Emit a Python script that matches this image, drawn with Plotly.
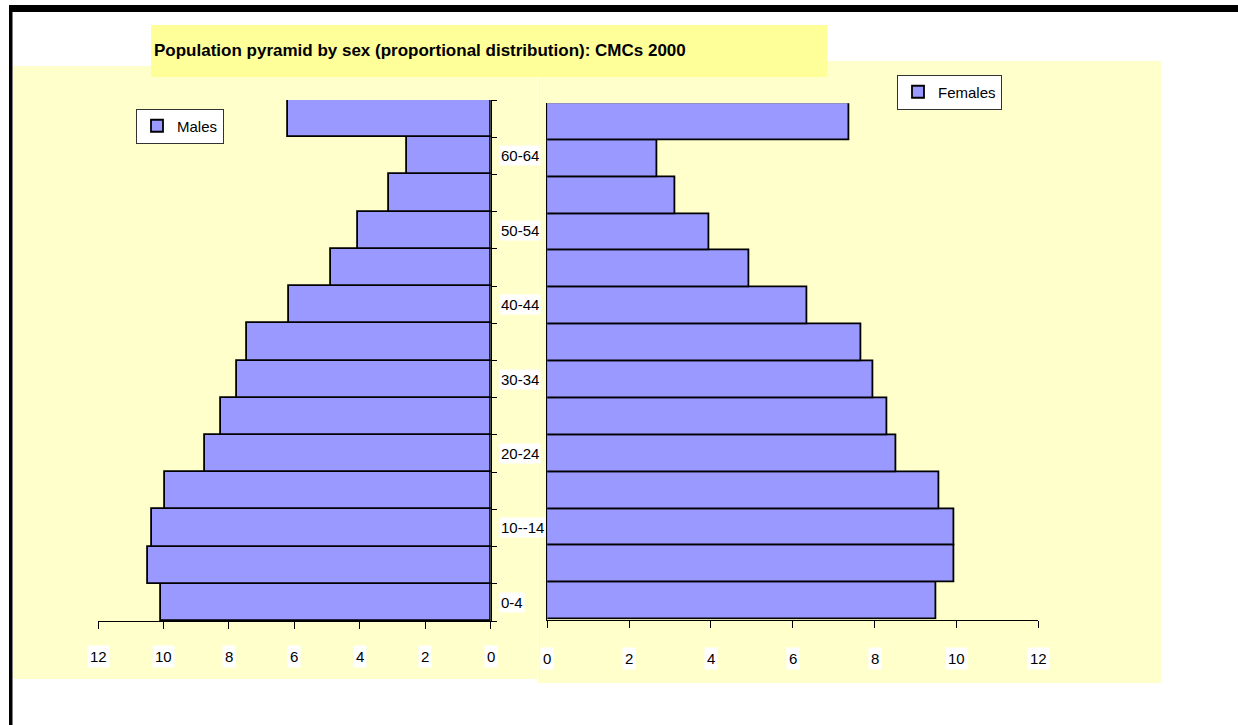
import plotly.graph_objects as go

W, H = 1238, 725

categories = ["0-4", "5-9", "10--14", "15-19", "20-24", "25-29", "30-34",
              "35-39", "40-44", "45-49", "50-54", "55-59", "60-64", "65+"]
shown_labels = ["0-4", "10--14", "20-24", "30-34", "40-44", "50-54", "60-64"]
males = [10.08, 10.46, 10.36, 9.94, 8.73, 8.23, 7.76, 7.44, 6.17, 4.89, 4.04, 3.11, 2.56, 6.18]
females = [9.52, 9.95, 9.96, 9.59, 8.54, 8.31, 7.97, 7.68, 6.36, 4.93, 3.96, 3.12, 2.69, 7.38]
x_ticks = [0, 2, 4, 6, 8, 10, 12]
title_text = "Population pyramid by sex (proportional distribution): CMCs 2000"

FONT = "Liberation Sans Narrow, Arial Narrow, Liberation Sans, Arial, sans-serif"
BAR = "#9999FF"
PANEL = "#FFFFCC"
TITLEBG = "#FFFF99"


def px(x):
    return x / W


def py(y):
    return 1 - y / H


fig = go.Figure()
fig.add_trace(go.Bar(y=categories, x=males, orientation="h", name="Males",
                     marker=dict(color=BAR, line=dict(color="black", width=1.8)),
                     xaxis="x", yaxis="y", legend="legend", hoverinfo="skip"))
fig.add_trace(go.Bar(y=categories, x=females, orientation="h", name="Females",
                     marker=dict(color=BAR, line=dict(color="black", width=1.8)),
                     xaxis="x2", yaxis="y2", legend="legend2", hoverinfo="skip"))

shapes = [
    # panels
    dict(type="rect", xref="paper", yref="paper", x0=px(13), x1=px(537), y0=py(679), y1=py(66),
         fillcolor=PANEL, line=dict(width=0), layer="below"),
    dict(type="rect", xref="paper", yref="paper", x0=px(538), x1=px(1161), y0=py(683), y1=py(61),
         fillcolor=PANEL, line=dict(width=0), layer="below"),
    # title box
    dict(type="rect", xref="paper", yref="paper", x0=px(151), x1=px(827), y0=py(77), y1=py(25),
         fillcolor=TITLEBG, line=dict(width=0), layer="below"),
    # frame lines
    dict(type="rect", xref="paper", yref="paper", x0=px(9), x1=1, y0=py(12), y1=py(5),
         fillcolor="black", line=dict(width=0), layer="above"),
    dict(type="rect", xref="paper", yref="paper", x0=px(9), x1=px(12.5), y0=0, y1=py(5),
         fillcolor="black", line=dict(width=0), layer="above"),
]

annotations = [
    dict(text="<b>" + title_text + "</b>", xref="paper", yref="paper", x=px(152), y=py(50),
         xanchor="left", yanchor="middle", showarrow=False,
         font=dict(family=FONT, size=17, color="black")),
]
for lab in shown_labels:
    annotations.append(dict(text=lab, xref="paper", yref="y", x=px(499), y=lab,
                            xanchor="left", yanchor="middle", showarrow=False,
                            bgcolor="white", borderpad=1,
                            font=dict(family=FONT, size=15, color="black")))
for t in x_ticks:
    annotations.append(dict(text=str(t), xref="x", yref="paper", x=t, y=py(656),
                            xanchor="center", yanchor="middle", showarrow=False,
                            bgcolor="white", borderpad=2,
                            font=dict(family=FONT, size=15, color="black")))
    annotations.append(dict(text=str(t), xref="x2", yref="paper", x=t, y=py(658),
                            xanchor="center", yanchor="middle", showarrow=False,
                            bgcolor="white", borderpad=2,
                            font=dict(family=FONT, size=15, color="black")))

axis_common = dict(showgrid=False, zeroline=False, showline=True, linecolor="black",
                   linewidth=1, fixedrange=True)

fig.update_layout(
    width=W, height=H, autosize=False,
    margin=dict(l=0, r=0, t=0, b=0),
    paper_bgcolor="white", plot_bgcolor="rgba(0,0,0,0)",
    bargap=0,
    font=dict(family=FONT, size=15, color="black"),
    xaxis=dict(domain=[px(98), px(490.7)], range=[12, 0], anchor="y",
               tickmode="array", tickvals=x_ticks, ticks="outside", ticklen=7,
               tickcolor="black", showticklabels=False, **axis_common),
    yaxis=dict(domain=[py(621), py(100)], type="category", categoryorder="array",
               categoryarray=categories, range=[-0.5, 13.5], anchor="x", side="right",
               ticks="outside", tickson="boundaries", ticklen=5, tickcolor="black",
               showticklabels=False, **axis_common),
    xaxis2=dict(domain=[px(547.3), px(1038.2)], range=[0, 12], anchor="y2",
                tickmode="array", tickvals=x_ticks, ticks="outside", ticklen=7,
                tickcolor="black", showticklabels=False, **axis_common),
    yaxis2=dict(domain=[py(619.5), py(103.3)], type="category", categoryorder="array",
                categoryarray=categories, range=[-0.5, 13.5], anchor="x2", side="left",
                ticks="", showticklabels=False, **axis_common),
    legend=dict(x=px(180), y=py(126), xanchor="center", yanchor="middle",
                bgcolor="white", bordercolor="#333333", borderwidth=1,
                font=dict(family=FONT, size=15, color="black"),
                itemwidth=30, tracegroupgap=0),
    legend2=dict(x=px(949.5), y=py(92), xanchor="center", yanchor="middle",
                 bgcolor="white", bordercolor="#333333", borderwidth=1,
                 font=dict(family=FONT, size=15, color="black"),
                 itemwidth=30, tracegroupgap=0),
    showlegend=True,
    shapes=shapes,
    annotations=annotations,
)

fig.write_html("out.html", config={"displayModeBar": False},
               post_script="document.body.style.margin='0';document.body.style.overflow='hidden';")
